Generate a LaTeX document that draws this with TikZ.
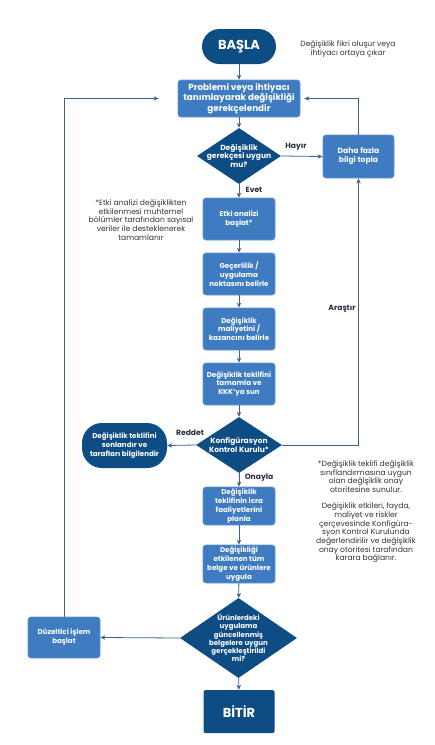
\documentclass[tikz,border=0pt]{standalone}
\usepackage{fontspec}
\setmainfont{Poppins}
\usetikzlibrary{shapes.geometric,arrows.meta}
\definecolor{dkblue}{HTML}{0E4C84}
\definecolor{mdblue}{HTML}{3E7BC0}
\definecolor{mdedge}{HTML}{6396D3}
\definecolor{arr}{HTML}{40608F}
\definecolor{notec}{HTML}{333333}
\definecolor{labc}{HTML}{2A2D3E}
\begin{document}
\begin{tikzpicture}[x=1pt,y=-1pt,
  proc/.style={rectangle, rounded corners=3pt, fill=mdblue, draw=mdedge, line width=0.8pt,
    text=white, font=\bfseries\fontsize{7.1}{8.8}\selectfont, align=center,
    minimum width=72pt, minimum height=42pt, inner sep=1pt},
  term/.style={rectangle, fill=dkblue, draw=none, text=white, align=center, inner sep=1pt},
  dec/.style={diamond, fill=dkblue, draw=none, inner sep=0pt},
  dectext/.style={text=white, font=\bfseries\fontsize{7.5}{8.7}\selectfont, align=center},
  conn/.style={draw=arr, line width=0.8pt, -{Stealth[length=5pt,width=4.5pt]}},
  lbl/.style={text=labc, font=\bfseries\fontsize{7.6}{8}\selectfont, inner sep=0pt},
  notetext/.style={text=notec, font=\fontsize{7.6}{8.7}\selectfont, align=center, inner sep=0pt}
]
\useasboundingbox (0,0) rectangle (435,745);

% terminals
\node[term, rounded corners=17.5pt, minimum width=74pt, minimum height=35pt,
  font=\bfseries\fontsize{13}{14}\selectfont] (start) at (239,46.5) {BAŞLA};
\node[term, rounded corners=1.5pt, minimum width=71pt, minimum height=43pt,
  font=\bfseries\fontsize{13}{14}\selectfont] (bitir) at (239,711.5) {BİTİR};
\node[term, rounded corners=20pt, minimum width=85pt, minimum height=45pt,
  font=\bfseries\fontsize{7.1}{8.8}\selectfont] (son) at (124.5,445.5)
  {Değişiklik teklifini\\sonlandır ve\\tarafları bilgilendir};

% process boxes
\node[proc, minimum width=122pt, minimum height=37pt, font=\bfseries\fontsize{8.8}{10.4}\selectfont]
  (b1) at (239,98.5) {Problemi veya ihtiyacı\\tanımlayarak değişikliği\\gerekçelendir};
\node[proc, minimum width=71pt, minimum height=43pt, font=\bfseries\fontsize{7.6}{9}\selectfont]
  (daha) at (358.5,156.5) {Daha fazla\\bilgi topla};
\node[proc] (etki) at (239,219) {Etki analizi\\başlat*};
\node[proc] (gec) at (239,274) {Geçerlilik /\\uygulama\\noktasını belirle};
\node[proc] (mal) at (239,329) {Değişiklik\\maliyetini /\\kazancını belirle};
\node[proc] (tek) at (239,384) {Değişiklik teklifini\\tamamla ve\\KKK'ya sun};
\node[proc, minimum height=38pt] (ic) at (239,506) {Değişiklik\\teklifinin icra\\faaliyetlerini\\planla};
\node[proc, minimum height=38pt] (uyg) at (239,564) {Değişikliği\\etkilenen tüm\\belge ve ürünlere\\uygula};
\node[proc, minimum width=72pt, minimum height=41pt] (duz) at (64,637.5) {Düzeltici işlem\\başlat};

% decisions
\node[dec, minimum width=84pt, minimum height=56pt] (d1) at (239,156) {};
\node[dectext] (d1t) at (d1) {Değişiklik\\gerekçesi uygun\\mu?};
\node[dec, minimum width=86pt, minimum height=56pt] (d2) at (239,445) {};
\node[dectext] (d2t) at (d2) {Konfigürasyon\\Kontrol Kurulu*};
\node[dec, minimum width=117pt, minimum height=80pt] (d3) at (238.5,638) {};
\node[dectext, font=\bfseries\fontsize{7}{8.3}\selectfont] (d3t) at (d3)
  {Ürünlerdeki\\uygulama\\güncellenmiş\\belgelere uygun\\gerçekleştirildi\\mi?};

% main flow
\draw[conn] (start) -- (b1);
\draw[conn] (b1) -- (d1);
\draw[conn] (d1) -- (etki);
\draw[conn] (etki) -- (gec);
\draw[conn] (gec) -- (mal);
\draw[conn] (mal) -- (tek);
\draw[conn] (tek) -- (d2);
\draw[conn] (d2) -- (ic);
\draw[conn] (ic) -- (uyg);
\draw[conn] (uyg) -- (d3);
\draw[conn] (d3) -- (bitir);

% branches
\draw[conn] (d1.east) -- (daha.west);
\draw[conn] (d2.west) -- (son.east);
\draw[conn] (d3.west) -- (duz.east);
\draw[conn] (d2.east) -| (daha.south);
\draw[conn, shorten >=4pt] (daha.north) |- (b1.east);
\draw[conn, shorten >=19pt] (duz.north) |- (b1.west);

% labels
\node[lbl] (hay) at (296,147) {Hayır};
\node[lbl] (evet) at (254,190) {Evet};
\node[lbl] (ara) at (342,309) {Araştır};
\node[lbl] (red) at (190,433) {Reddet};
\node[lbl] (ona) at (259,478) {Onayla};

% notes
\node[notetext] (n1) at (348,49) {Değişiklik fikri oluşur veya\\ihtiyacı ortaya çıkar};
\node[notetext] (n2) at (141,220) {*Etki analizi değişiklikten\\etkilenmesi muhtemel\\bölümler tarafından sayısal\\veriler ile desteklenerek\\tamamlanır};
\node[notetext] (n3) at (366,476.5) {*Değişiklik teklifi değişiklik\\sınıflandırmasına uygun\\olan değişiklik onay\\otoritesine sunulur.};
\node[notetext] (n4) at (366,533) {Değişiklik etkileri, fayda,\\maliyet ve riskler\\çerçevesinde Konfigüra-\\syon Kontrol Kurulunda\\değerlendirilir ve değişiklik\\onay otoritesi tarafından\\karara bağlanır.};
\end{tikzpicture}
\end{document}
